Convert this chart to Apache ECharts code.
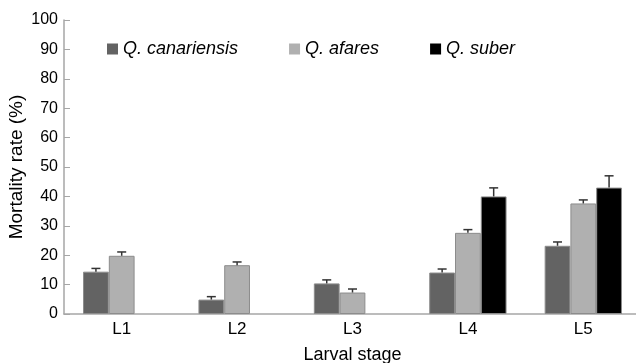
<!DOCTYPE html>
<html>
<head>
<meta charset="utf-8">
<script src="https://cdn.jsdelivr.net/npm/echarts@6/dist/echarts.min.js"></script>
<style>html,body{margin:0;padding:0;background:#fff}#c{width:636px;height:363px}</style>
</head>
<body>
<div id="c"></div>
<script>
var categories = ['L1', 'L2', 'L3', 'L4', 'L5'];
var seriesNames = ['Q. canariensis', 'Q. afares', 'Q. suber'];
var canariensis = [14.4, 4.9, 10.4, 14.1, 23.2];
var canariensisErr = [1.1, 1.0, 1.2, 1.2, 1.3];
var afares = [19.8, 16.6, 7.3, 27.6, 37.6];
var afaresErr = [1.3, 1.1, 1.2, 1.1, 1.2];
var suber = [null, null, null, 40.0, 43.0];
var suberErr = [null, null, null, 2.9, 4.0];
var yTicks = [0, 10, 20, 30, 40, 50, 60, 70, 80, 90, 100];

var values = [canariensis, afares, suber];
var errs = [canariensisErr, afaresErr, suberErr];
var colors = ['#636363', '#b0b0b0', '#000000'];
var catGap = 0.33;

var chart = echarts.init(document.getElementById('c'), null, {renderer: 'canvas'});

function errSeries(idx) {
  var data = [];
  for (var i = 0; i < categories.length; i++) {
    if (values[idx][i] != null) data.push([i, values[idx][i], values[idx][i] + errs[idx][i]]);
  }
  return {
    type: 'custom',
    name: seriesNames[idx] + ' err',
    z: 5,
    silent: true,
    data: data,
    renderItem: function (params, api) {
      var ci = api.value(0);
      var band = api.size([1, 0])[0];
      var bw = band * (1 - catGap) / 3;
      var base = api.coord([ci, api.value(1)]);
      var top = api.coord([ci, api.value(2)]);
      var x = base[0] + (idx - 1) * bw;
      var half = 4.5;
      return {
        type: 'group',
        children: [
          {type: 'line', shape: {x1: x, y1: base[1], x2: x, y2: top[1]}, style: {stroke: '#333', lineWidth: 1.5}},
          {type: 'line', shape: {x1: x - half, y1: top[1], x2: x + half, y2: top[1]}, style: {stroke: '#333', lineWidth: 1.5}}
        ]
      };
    }
  };
}

var series = [];
for (var s = 0; s < 3; s++) {
  series.push({
    type: 'bar',
    name: seriesNames[s],
    data: values[s],
    barGap: '0%',
    barCategoryGap: (catGap * 100) + '%',
    itemStyle: {color: colors[s], borderColor: '#8c8c8c', borderWidth: 1},
    emphasis: {disabled: true}
  });
}
for (var s2 = 0; s2 < 3; s2++) series.push(errSeries(s2));

chart.setOption({
  animation: false,
  backgroundColor: '#fff',
  textStyle: {fontFamily: 'Liberation Sans, Arial, sans-serif'},
  legend: {
    data: seriesNames.map(function (n, i) { return {name: n, icon: 'rect', itemStyle: {color: colors[i], borderWidth: 0}}; }),
    left: 102,
    top: 35,
    itemWidth: 11,
    itemHeight: 11,
    itemGap: 51,
    textStyle: {fontSize: 18, fontStyle: 'italic', color: '#000', fontFamily: 'Liberation Sans, Arial, sans-serif'}
  },
  grid: {left: 64, right: -5, top: 20, bottom: 49, containLabel: false, outerBoundsMode: 'none'},
  xAxis: {
    type: 'category',
    data: categories,
    name: 'Larval stage',
    nameLocation: 'middle',
    nameGap: 32,
    nameMoveOverlap: false,
    nameTextStyle: {fontSize: 18, color: '#000'},
    axisLine: {lineStyle: {color: '#a6a6a6', width: 1.5}},
    axisTick: {inside: true, length: 6, lineStyle: {color: '#a6a6a6'}},
    axisLabel: {fontSize: 17, color: '#000', margin: 7}
  },
  yAxis: {
    type: 'value',
    min: 0,
    max: 100,
    interval: 10,
    name: 'Mortality rate (%)',
    nameLocation: 'middle',
    nameGap: 38,
    nameMoveOverlap: false,
    nameTextStyle: {fontSize: 19, color: '#000'},
    axisLine: {show: true, lineStyle: {color: '#a6a6a6', width: 1.5}},
    axisTick: {show: true, inside: true, length: 6, lineStyle: {color: '#a6a6a6'}},
    axisLabel: {fontSize: 16, color: '#000', margin: 6, formatter: function (v) { return yTicks.indexOf(v) >= 0 ? String(v) : ''; }},
    splitLine: {show: false}
  },
  series: series
});
</script>
</body>
</html>
